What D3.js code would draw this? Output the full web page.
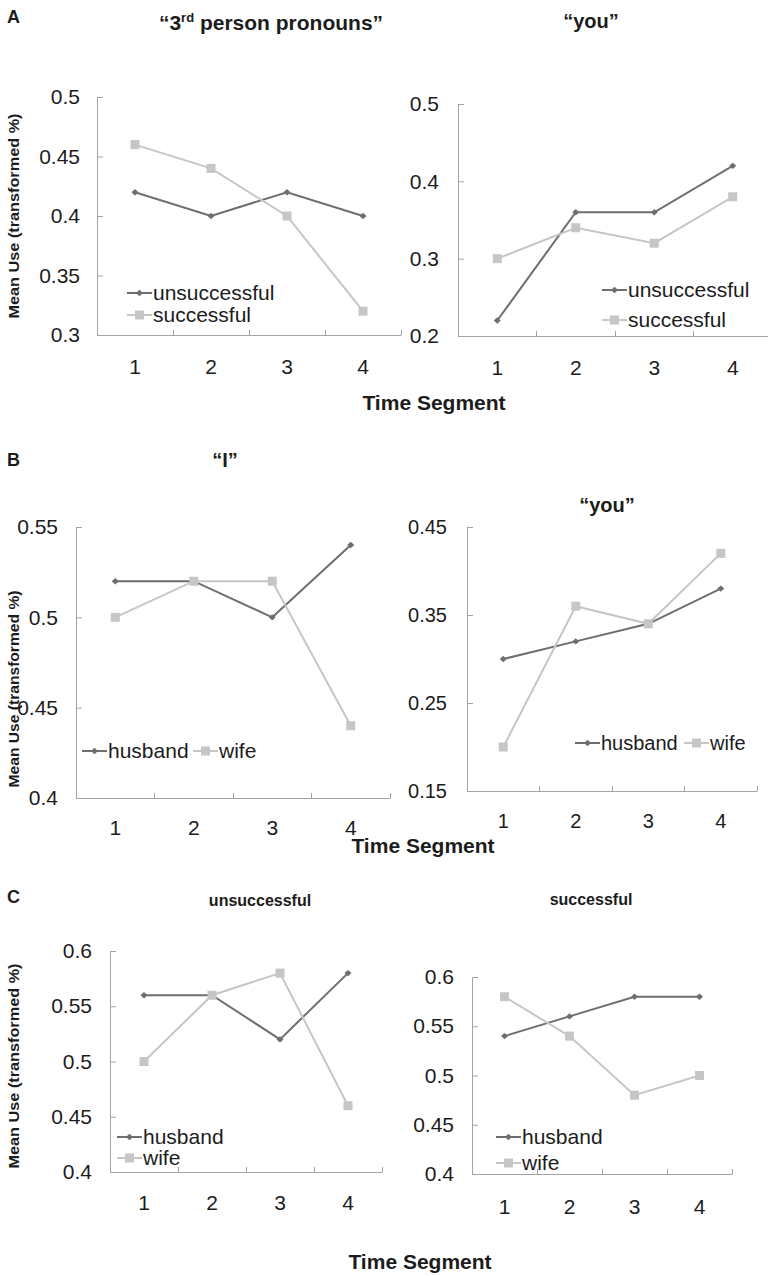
<!DOCTYPE html>
<html>
<head>
<meta charset="utf-8">
<script src="https://cdn.jsdelivr.net/npm/d3@7"></script>
<style>
  html, body { margin: 0; padding: 0; background: #fff; }
  svg { display: block; font-family: "Liberation Sans", Arial, sans-serif; }
</style>
</head>
<body>
<svg id="chart" width="768" height="1276"></svg>
<script>
// ---- data ----
const timeSegments = [1, 2, 3, 4];

const aLeftUnsuccessful = [0.42, 0.40, 0.42, 0.40];
const aLeftSuccessful   = [0.46, 0.44, 0.40, 0.32];
const aRightUnsuccessful = [0.22, 0.36, 0.36, 0.42];
const aRightSuccessful   = [0.30, 0.34, 0.32, 0.38];

const bLeftHusband = [0.52, 0.52, 0.50, 0.54];
const bLeftWife    = [0.50, 0.52, 0.52, 0.44];
const bRightHusband = [0.30, 0.32, 0.34, 0.38];
const bRightWife    = [0.20, 0.36, 0.34, 0.42];

const cLeftHusband = [0.56, 0.56, 0.52, 0.58];
const cLeftWife    = [0.50, 0.56, 0.58, 0.46];
const cRightHusband = [0.54, 0.56, 0.58, 0.58];
const cRightWife    = [0.58, 0.54, 0.48, 0.50];

const aLeftTicks  = [0.3, 0.35, 0.4, 0.45, 0.5];
const aRightTicks = [0.2, 0.3, 0.4, 0.5];
const bLeftTicks  = [0.4, 0.45, 0.5, 0.55];
const bRightTicks = [0.15, 0.25, 0.35, 0.45];
const cTicks      = [0.4, 0.45, 0.5, 0.55, 0.6];

const seriesNamesA = ["unsuccessful", "successful"];
const seriesNamesBC = ["husband", "wife"];

// ---- styling ----
const DARK = "#6e6e6e", LIGHT = "#c6c6c6", AXIS = "#a3a3a3", TEXT = "#1c1c1c";

const panels = [
  { x0: 97, x1: 401, yTop: 97, yBot: 335, ticks: aLeftTicks, names: seriesNamesA,
    series: [aLeftUnsuccessful, aLeftSuccessful], tickPad: 17, xPad: 24, font: 21,
    legend: { mode: "v", x: 127, ys: [293, 315] } },
  { x0: 458, x1: 772, yTop: 104, yBot: 336, ticks: aRightTicks, names: seriesNamesA,
    series: [aRightUnsuccessful, aRightSuccessful], tickPad: 19, xPad: 24, font: 21,
    legend: { mode: "v", x: 602, ys: [290, 320] } },
  { x0: 76, x1: 390, yTop: 527, yBot: 798, ticks: bLeftTicks, names: seriesNamesBC,
    series: [bLeftHusband, bLeftWife], tickPad: 18, xPad: 22, font: 21,
    legend: { mode: "h", xs: [82, 193], y: 751 } },
  { x0: 467, x1: 757, yTop: 527, yBot: 791, ticks: bRightTicks, names: seriesNamesBC,
    series: [bRightHusband, bRightWife], tickPad: 20, xPad: 23, font: 20,
    legend: { mode: "h", xs: [575, 684], y: 743 } },
  { x0: 110, x1: 382, yTop: 951, yBot: 1172, ticks: cTicks, names: seriesNamesBC,
    series: [cLeftHusband, cLeftWife], tickPad: 18, xPad: 23, font: 21,
    legend: { mode: "v", x: 117, ys: [1137, 1158] } },
  { x0: 472, x1: 732, yTop: 977, yBot: 1174, ticks: cTicks, names: seriesNamesBC,
    series: [cRightHusband, cRightWife], tickPad: 18, xPad: 25, font: 21,
    legend: { mode: "v", x: 496, ys: [1137, 1163] } }
];

const svg = d3.select("#chart");
const colors = [DARK, LIGHT];

function drawMarker(g, i, cx, cy) {
  if (i === 0) {
    g.append("path")
      .attr("d", d3.symbol().type(d3.symbolDiamond2).size(26)())
      .attr("transform", `translate(${cx},${cy}) scale(1.1,1)`)
      .attr("fill", DARK);
  } else {
    g.append("rect")
      .attr("x", cx - 4.5).attr("y", cy - 4.5)
      .attr("width", 9).attr("height", 9)
      .attr("fill", LIGHT);
  }
}

panels.forEach(p => {
  const x = d3.scaleBand().domain(timeSegments).range([p.x0, p.x1]).paddingInner(0).paddingOuter(0);
  const ext = d3.extent(p.ticks);
  const y = d3.scaleLinear().domain(ext).range([p.yBot, p.yTop]);
  const g = svg.append("g");

  // y axis
  const ya = g.append("g").attr("transform", `translate(${p.x0},0)`)
    .call(d3.axisLeft(y).tickValues(p.ticks).tickSizeInner(-6).tickSizeOuter(0)
      .tickPadding(p.tickPad).tickFormat(d => String(+d.toFixed(2))));
  ya.select(".domain").attr("stroke", AXIS);
  ya.selectAll(".tick line").attr("stroke", AXIS);
  ya.selectAll("text").attr("font-size", p.font).attr("fill", TEXT)
    .attr("font-family", "Liberation Sans, Arial, sans-serif");

  // x axis
  const xa = g.append("g").attr("transform", `translate(0,${p.yBot})`)
    .call(d3.axisBottom(x).tickSize(0).tickPadding(p.xPad));
  xa.select(".domain").attr("stroke", AXIS);
  xa.selectAll("text").attr("font-size", p.font).attr("fill", TEXT)
    .attr("font-family", "Liberation Sans, Arial, sans-serif");
  // band boundary ticks (inward)
  g.append("g").selectAll("line").data(timeSegments).join("line")
    .attr("x1", d => x(d) + x.bandwidth()).attr("x2", d => x(d) + x.bandwidth())
    .attr("y1", p.yBot).attr("y2", p.yBot - 5)
    .attr("stroke", AXIS).attr("shape-rendering", "crispEdges");

  // lines and markers (light first so dark on top? reference draws light after dark)
  p.series.forEach((vals, i) => {
    const line = d3.line().x((d, j) => x(timeSegments[j]) + x.bandwidth() / 2).y(d => y(d));
    g.append("path").datum(vals).attr("d", line)
      .attr("fill", "none").attr("stroke", colors[i]).attr("stroke-width", 2);
    const mg = g.append("g");
    vals.forEach((v, j) => drawMarker(mg, i, x(timeSegments[j]) + x.bandwidth() / 2, y(v)));
  });

  // legend
  const L = p.legend;
  p.names.forEach((name, i) => {
    let lx, ly;
    if (L.mode === "v") { lx = L.x; ly = L.ys[i]; } else { lx = L.xs[i]; ly = L.y; }
    g.append("line").attr("x1", lx).attr("x2", lx + 25).attr("y1", ly).attr("y2", ly)
      .attr("stroke", colors[i]).attr("stroke-width", 2);
    drawMarker(g, i, lx + 12.5, ly);
    g.append("text").attr("x", lx + 26).attr("y", ly).attr("dy", "0.35em")
      .attr("font-size", p.font).attr("fill", TEXT).text(name);
  });
});

// panel letters
const letters = [["A", 7, 23], ["B", 7, 466], ["C", 7, 903]];
svg.selectAll(".letter").data(letters).join("text").attr("class", "letter")
  .attr("x", d => d[1]).attr("y", d => d[2]).attr("font-size", 18)
  .attr("font-weight", "bold").attr("fill", TEXT).text(d => d[0]);

// titles
const t1 = svg.append("text").attr("x", 271).attr("y", 30).attr("text-anchor", "middle")
  .attr("font-size", 21).attr("font-weight", "bold").attr("fill", TEXT);
t1.append("tspan").text("\u201C3");
t1.append("tspan").attr("font-size", 13).attr("dy", -8).text("rd");
t1.append("tspan").attr("dy", 8).text(" person pronouns\u201D");

const titles = [
  ["\u201Cyou\u201D", 591, 28, 20],
  ["\u201CI\u201D", 225, 467, 20],
  ["\u201Cyou\u201D", 607, 512, 20],
  ["unsuccessful", 260, 906, 16],
  ["successful", 591, 905, 16]
];
svg.selectAll(".title").data(titles).join("text").attr("class", "title")
  .attr("x", d => d[1]).attr("y", d => d[2]).attr("text-anchor", "middle")
  .attr("font-size", d => d[3]).attr("font-weight", "bold").attr("fill", TEXT)
  .text(d => d[0]);

// y-axis titles
const yTitles = [[216, 205], [689, 197], [1066, 205]];
svg.selectAll(".ytitle").data(yTitles).join("text").attr("class", "ytitle")
  .attr("transform", d => `translate(19,${d[0]}) rotate(-90)`)
  .attr("text-anchor", "middle").attr("font-size", 15).attr("font-weight", "bold")
  .attr("fill", TEXT).attr("textLength", d => d[1]).attr("lengthAdjust", "spacingAndGlyphs")
  .text("Mean Use (transformed %)");

// x-axis titles
const xTitles = [[434, 410], [423, 853], [420, 1269]];
svg.selectAll(".xtitle").data(xTitles).join("text").attr("class", "xtitle")
  .attr("x", d => d[0]).attr("y", d => d[1]).attr("text-anchor", "middle")
  .attr("font-size", 21).attr("font-weight", "bold").attr("fill", TEXT)
  .text("Time Segment");
</script>
</body>
</html>
